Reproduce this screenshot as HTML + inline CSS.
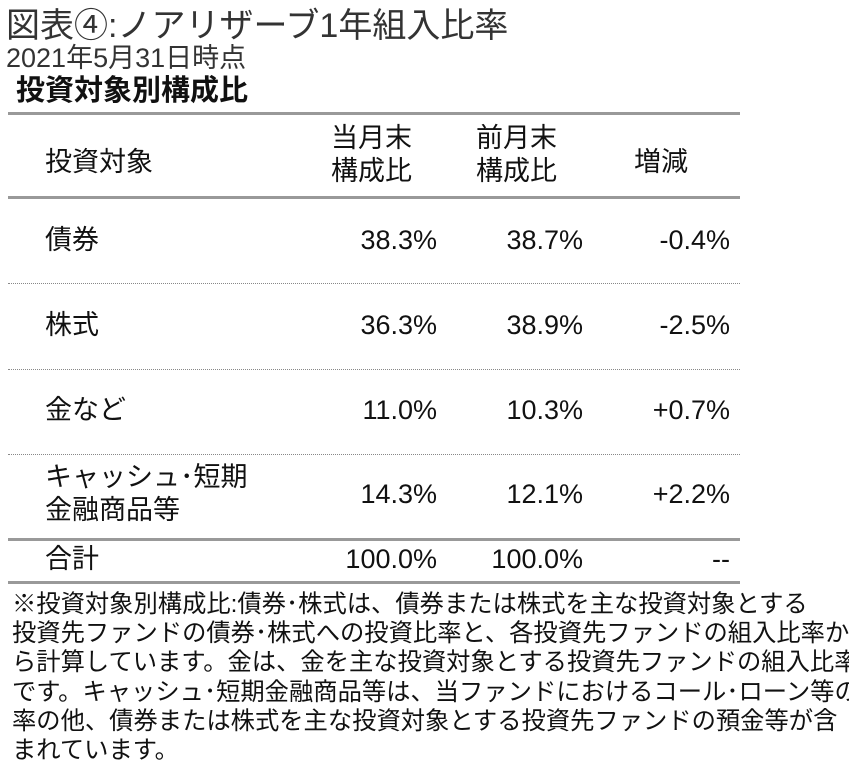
<!DOCTYPE html>
<html><head><meta charset="utf-8"><style>
body{margin:0;width:849px;height:772px;background:#fff;position:relative;overflow:hidden;font-family:"Liberation Sans","Noto Sans CJK JP",sans-serif;color:#111}
.a{position:absolute;white-space:nowrap}
.r{text-align:right}
.hl{position:absolute;left:8px;width:732px;height:3px;background:#999}
.dl{position:absolute;left:8px;width:732px;border-top:1px dotted #888}
.c{font-size:27px}
</style></head><body>
<div class="a" style="left:6px;top:-2px;font-size:34px;color:#333">図表④:ノアリザーブ1年組入比率</div>
<div class="a" style="left:6px;top:42px;font-size:27px;color:#333;line-height:32px">2021年5月31日時点</div>
<div class="a" style="left:16px;top:74px;font-size:29px;line-height:34px;font-weight:bold">投資対象別構成比</div>
<div class="hl" style="top:112px"></div>
<div class="a c" style="left:45px;top:140px">投資対象</div>
<div class="a c" style="left:331px;top:122px;line-height:33px">当月末<br>構成比</div>
<div class="a c" style="left:476px;top:122px;line-height:33px">前月末<br>構成比</div>
<div class="a c" style="left:634px;top:140px">増減</div>
<div class="hl" style="top:196px"></div>
<div id="rows"></div>
<div class="dl" style="top:283px"></div>
<div class="dl" style="top:369px"></div>
<div class="dl" style="top:454px"></div>
<div class="hl" style="top:538px"></div>
<div class="hl" style="top:581px"></div>
<div class="a" style="left:12px;top:590px;font-size:24.3px;line-height:29.2px;white-space:nowrap">※投資対象別構成比:債券･株式は、債券または株式を主な投資対象とする<br>投資先ファンドの債券･株式への投資比率と、各投資先ファンドの組入比率か<br>ら計算しています。金は、金を主な投資対象とする投資先ファンドの組入比率<br>です。キャッシュ･短期金融商品等は、当ファンドにおけるコール･ローン等の比<br>率の他、債券または株式を主な投資対象とする投資先ファンドの預金等が含<br>まれています。</div>
<script>
const labels=["債券","株式","金など","キャッシュ･短期<br>金融商品等","合計"];
const current=["38.3%","36.3%","11.0%","14.3%","100.0%"];
const previous=["38.7%","38.9%","10.3%","12.1%","100.0%"];
const change=["-0.4%","-2.5%","+0.7%","+2.2%","--"];
const rowY=[241,326,411,495,560];
const host=document.getElementById('rows');
labels.forEach((l,i)=>{
  const y=rowY[i];
  const d=document.createElement('div');d.className='a c';d.innerHTML=l;
  d.style.left='45px';d.style.lineHeight='33px';
  d.style.top=(l.includes('<br>')?y-34:y-17)+'px';
  
  
  host.appendChild(d);
  [[current,437,'current-value'],[previous,583,'previous-value'],[change,730,'change-value']].forEach(([arr,x,n])=>{
    const v=document.createElement('div');v.className='a c r';v.textContent=arr[i];
    v.style.right=(849-x)+'px';v.style.top=(y-17)+'px';v.style.lineHeight='33px';
    
    
    host.appendChild(v);
  });
});
</script>
</body></html>
